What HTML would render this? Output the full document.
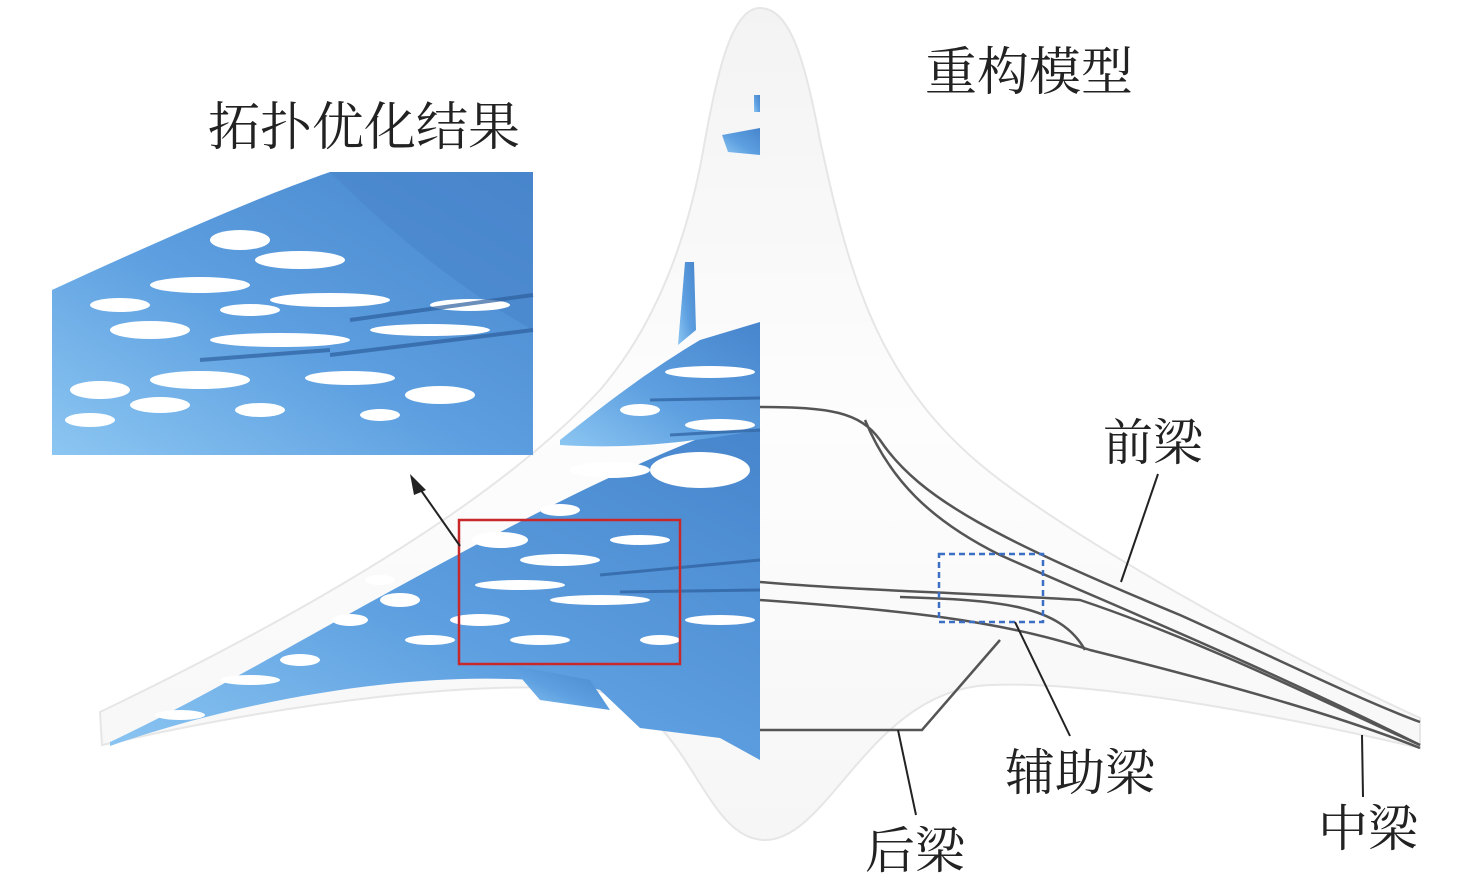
<!DOCTYPE html>
<html><head><meta charset="utf-8"><style>
html,body{margin:0;padding:0;background:#fff;}
svg{display:block}
text{font-family:"Liberation Serif","Noto Serif CJK SC","Noto Sans CJK SC",serif;fill:#222}
</style></head><body>
<svg width="1476" height="885" viewBox="0 0 1476 885" xmlns="http://www.w3.org/2000/svg">
<defs>
<linearGradient id="body" x1="0" y1="0" x2="0" y2="1">
<stop offset="0" stop-color="#f3f3f3"/><stop offset="0.5" stop-color="#fdfdfd"/><stop offset="1" stop-color="#f6f6f6"/></linearGradient>
<linearGradient id="blue" x1="0" y1="1" x2="1" y2="0">
<stop offset="0" stop-color="#8cc6f2"/><stop offset="0.45" stop-color="#5d9fe0"/><stop offset="1" stop-color="#4785cc"/></linearGradient>
</defs>
<!-- body -->
<path d="M760,8 C732,8 718,70 705,140 C690,230 660,320 600,390 C480,520 250,640 100,712 L102,745 C300,700 480,680 590,690 C690,700 700,840 765,840 C830,840 870,690 990,685 C1100,680 1300,720 1420,748 L1420,718 C1250,640 1080,540 1000,480 C880,390 850,280 820,140 C805,60 790,8 760,8 Z" fill="url(#body)" stroke="#e6e6e6" stroke-width="2"/>
<!-- blue structure left -->
<g fill="url(#blue)">
<path d="M110,742 C200,700 300,640 420,575 C520,520 620,470 700,438 L760,430 L760,760 L720,738 L640,728 L600,690 C500,665 300,680 110,746 Z"/>
<path d="M560,440 C610,400 650,370 700,340 L760,322 L760,430 C700,440 640,450 560,445 Z"/>
<path d="M685,262 L694,262 L696,330 L678,345 Z"/>
<path d="M722,135 L760,128 L760,155 L728,152 Z"/>
<path d="M754,95 L760,95 L760,112 L754,112 Z"/>
<path d="M510,665 L590,680 L610,710 L540,700 Z"/>
</g>
<g fill="#fff">
<ellipse cx="500" cy="540" rx="28" ry="8"/><ellipse cx="560" cy="560" rx="40" ry="6"/>
<ellipse cx="520" cy="585" rx="45" ry="5"/><ellipse cx="600" cy="600" rx="50" ry="5"/>
<ellipse cx="480" cy="620" rx="30" ry="6"/><ellipse cx="640" cy="540" rx="30" ry="5"/>
<ellipse cx="400" cy="600" rx="20" ry="7"/><ellipse cx="350" cy="620" rx="18" ry="6"/>
<ellipse cx="610" cy="470" rx="40" ry="8"/><ellipse cx="710" cy="372" rx="45" ry="6"/>
<ellipse cx="700" cy="470" rx="50" ry="18"/><ellipse cx="720" cy="425" rx="35" ry="6"/>
<ellipse cx="300" cy="660" rx="20" ry="6"/><ellipse cx="560" cy="510" rx="20" ry="6"/>
<ellipse cx="430" cy="640" rx="25" ry="5"/><ellipse cx="250" cy="680" rx="30" ry="5"/>
<ellipse cx="380" cy="580" rx="15" ry="5"/><ellipse cx="540" cy="640" rx="30" ry="5"/>
<ellipse cx="640" cy="410" rx="20" ry="6"/><ellipse cx="180" cy="715" rx="25" ry="5"/>
<ellipse cx="660" cy="640" rx="20" ry="5"/><ellipse cx="720" cy="620" rx="35" ry="5"/>
</g>
<g stroke="#2d5f9e" stroke-width="3" fill="none" opacity="0.7">
<path d="M600,575 L760,560"/><path d="M620,592 L760,590"/><path d="M650,400 L760,398"/><path d="M670,435 L760,430"/>
</g>
<!-- inset -->
<g>
<rect x="52" y="172" width="481" height="283" fill="#fff"/>
<path d="M52,290 C150,245 250,200 330,172 L533,172 L533,455 L52,455 Z" fill="url(#blue)"/>
<path d="M330,172 L533,172 L533,330 C480,300 420,260 330,172 Z" fill="#4a86cc" opacity="0.6"/>
<g fill="#fff">
<ellipse cx="240" cy="240" rx="30" ry="10"/><ellipse cx="300" cy="260" rx="45" ry="9"/>
<ellipse cx="200" cy="285" rx="50" ry="8"/><ellipse cx="330" cy="300" rx="60" ry="7"/>
<ellipse cx="150" cy="330" rx="40" ry="9"/><ellipse cx="280" cy="340" rx="70" ry="7"/>
<ellipse cx="430" cy="330" rx="60" ry="6"/><ellipse cx="200" cy="380" rx="50" ry="9"/>
<ellipse cx="350" cy="378" rx="45" ry="7"/><ellipse cx="100" cy="390" rx="30" ry="9"/>
<ellipse cx="470" cy="305" rx="40" ry="6"/><ellipse cx="120" cy="305" rx="30" ry="7"/>
<ellipse cx="440" cy="395" rx="35" ry="9"/><ellipse cx="90" cy="420" rx="25" ry="7"/>
<ellipse cx="160" cy="405" rx="30" ry="8"/><ellipse cx="260" cy="410" rx="25" ry="7"/>
<ellipse cx="380" cy="415" rx="20" ry="6"/><ellipse cx="250" cy="310" rx="30" ry="6"/>
</g>
<g stroke="#2d5f9e" stroke-width="4" fill="none" opacity="0.7">
<path d="M330,355 L533,330"/><path d="M350,320 L533,295"/><path d="M200,360 L330,350"/>
</g>
</g>
<!-- red rect & arrow -->
<rect x="459" y="520" width="221" height="144" fill="none" stroke="#c8282a" stroke-width="2.5"/>
<line x1="460" y1="546" x2="418" y2="486" stroke="#222" stroke-width="2"/>
<polygon points="410,474 426,490 414,495" fill="#222"/>
<!-- beams -->
<g fill="none" stroke="#555" stroke-width="2.5">
<path d="M760,407 C830,407 860,412 880,440 C920,500 1000,540 1180,615 C1280,660 1360,700 1420,722"/>
<path d="M865,420 C890,480 930,520 1000,555 C1100,600 1250,660 1420,745"/>
<path d="M760,582 C850,590 950,592 1080,600 C1200,640 1330,705 1420,745"/>
<path d="M760,600 C900,610 1000,620 1090,650 C1250,690 1350,720 1420,748"/>
<path d="M900,597 C1000,600 1060,605 1085,650"/>
<path d="M760,730 L922,730 L1000,640"/>
</g>
<rect x="939" y="554" width="104" height="68" fill="none" stroke="#3b6fc4" stroke-width="2.5" stroke-dasharray="6,4"/>
<g stroke="#222" stroke-width="2" fill="none">
<line x1="1158" y1="474" x2="1121" y2="582"/>
<line x1="1070" y1="736" x2="1015" y2="622"/>
<line x1="916" y1="815" x2="898" y2="730"/>
<line x1="1363" y1="797" x2="1362" y2="735"/>
</g>
<text x="208" y="145" font-size="52">拓扑优化结果</text>
<text x="925" y="90" font-size="52">重构模型</text>
<text x="1103" y="460" font-size="50">前梁</text>
<text x="1005" y="790" font-size="50">辅助梁</text>
<text x="865" y="868" font-size="50">后梁</text>
<text x="1318" y="846" font-size="50">中梁</text>
</svg>
</body></html>
